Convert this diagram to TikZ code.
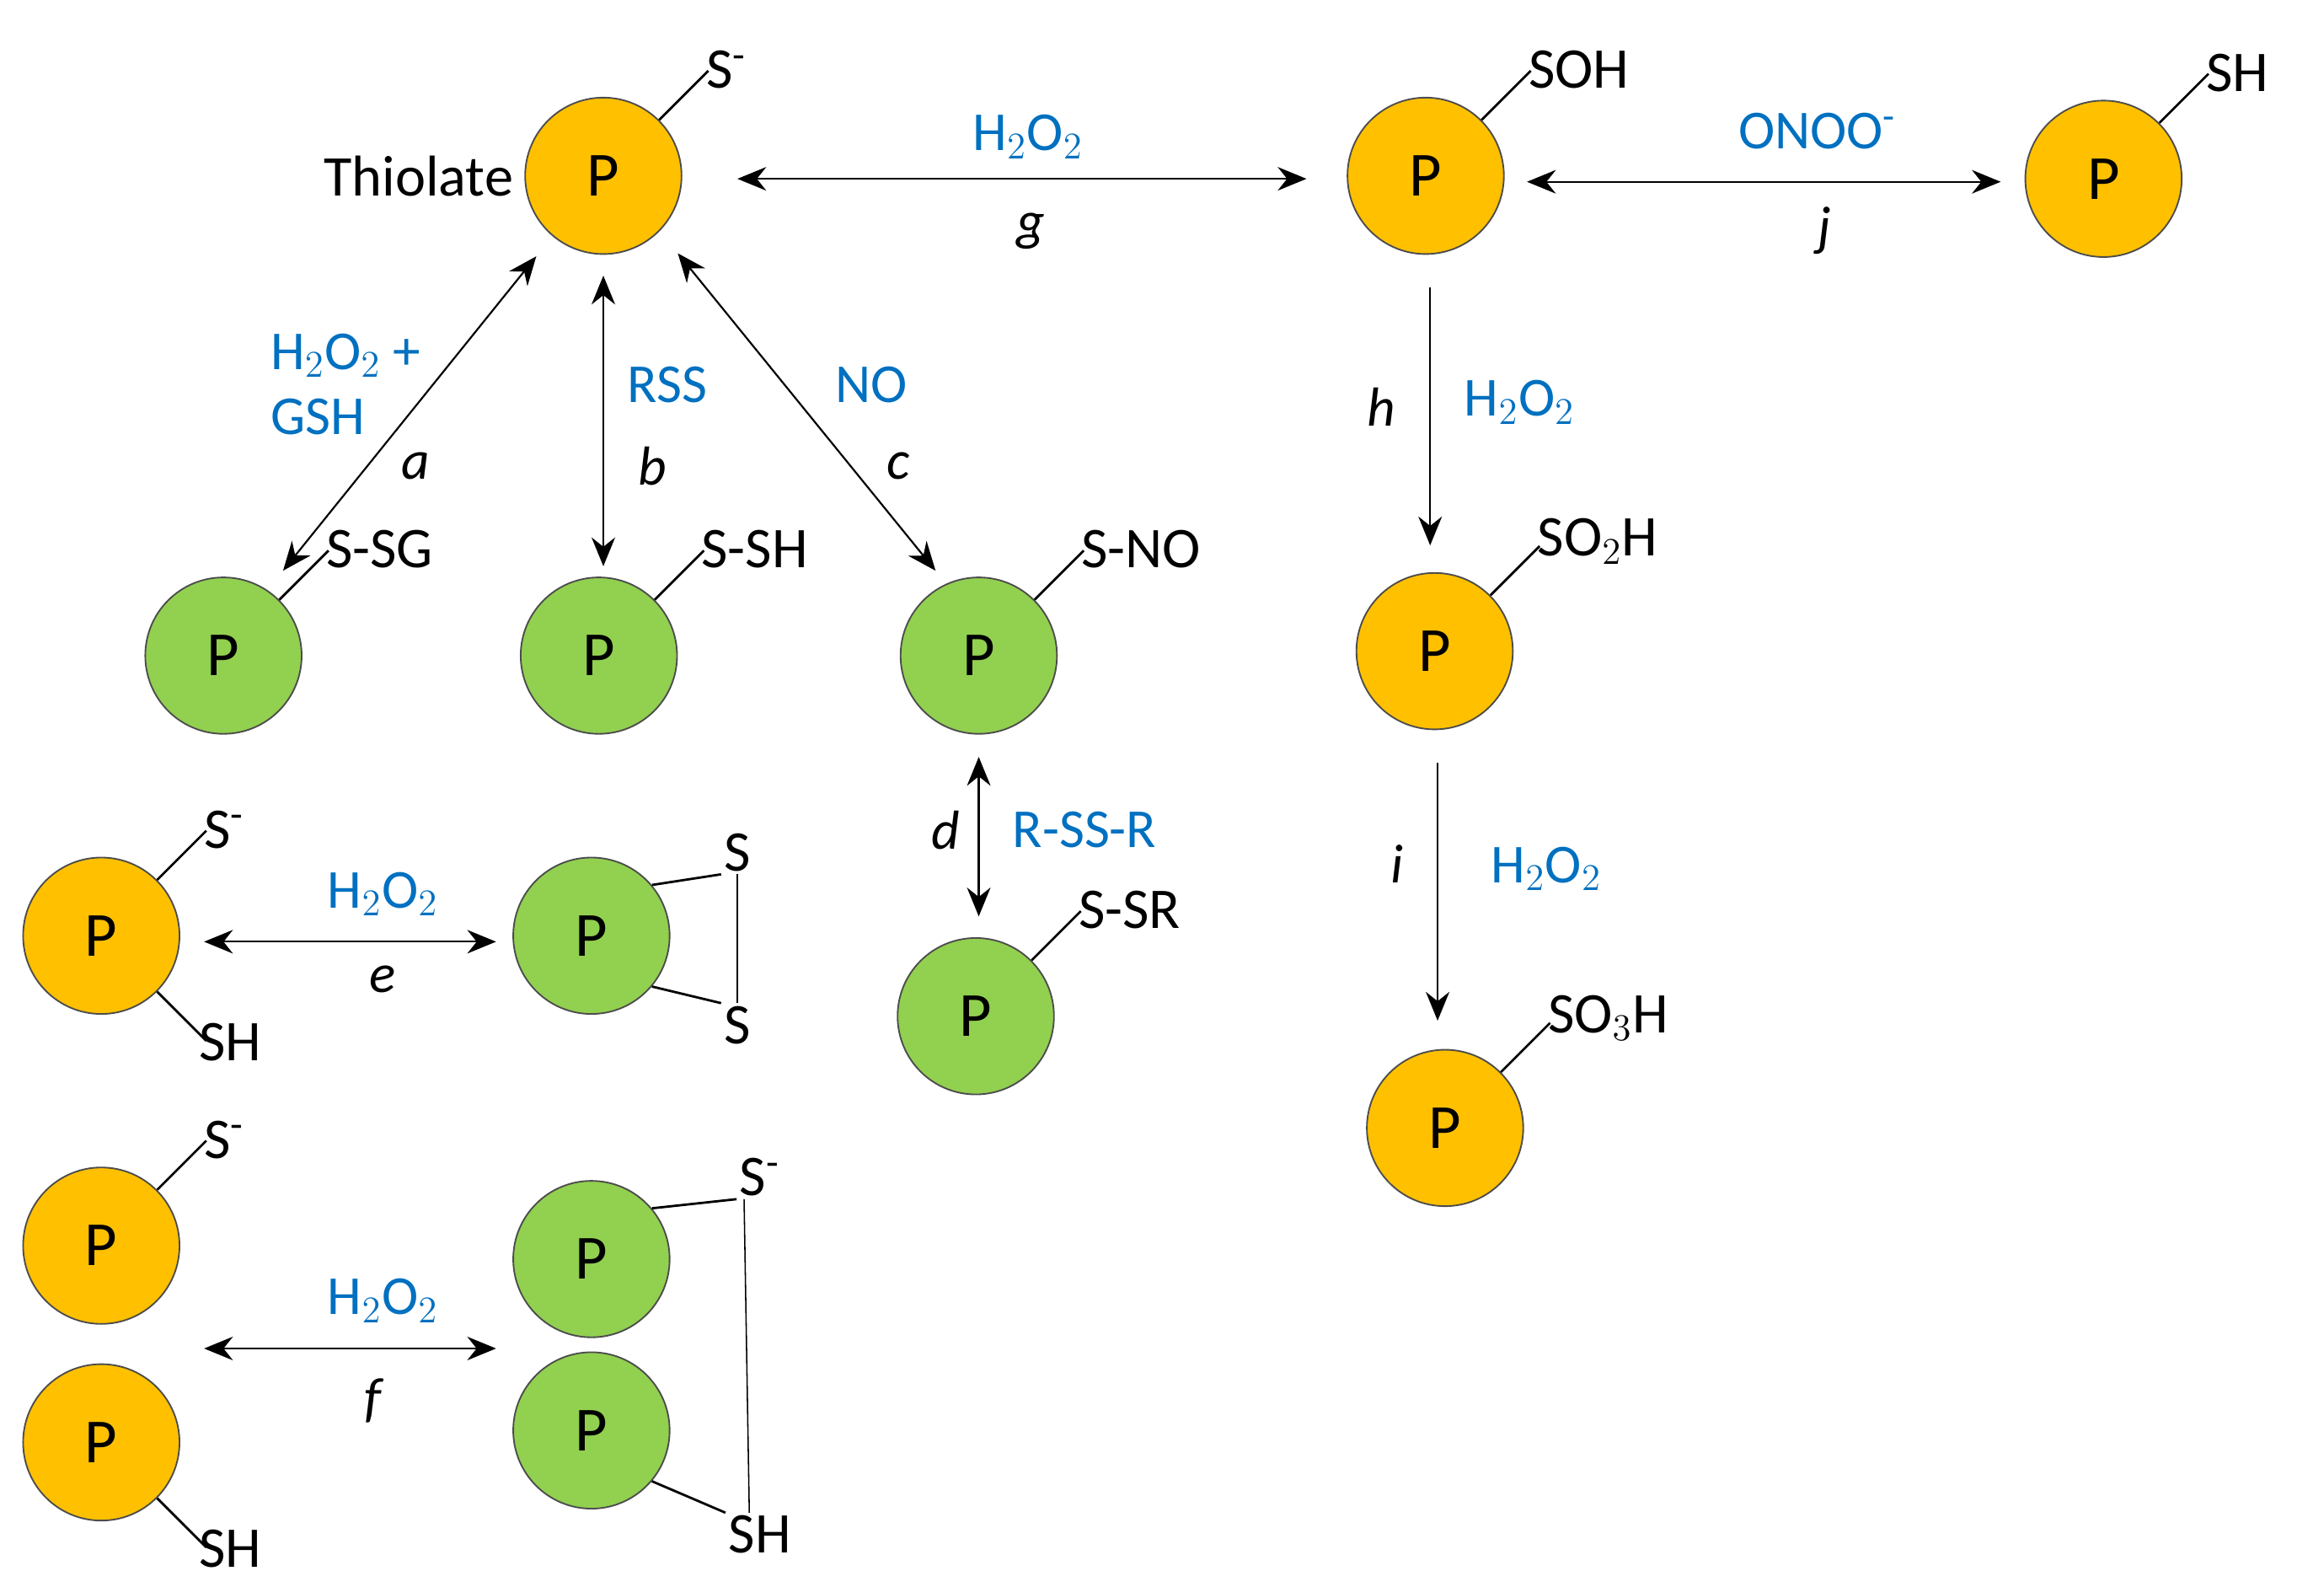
\documentclass[tikz,border=0pt]{standalone}
\usepackage{fontspec}
\setmainfont{Carlito}
\usetikzlibrary{arrows.meta}
\definecolor{org}{HTML}{FFC000}
\definecolor{grn}{HTML}{92D050}
\definecolor{blu}{HTML}{0070C0}
\newcommand{\mns}{\textsuperscript{-}}
\begin{document}
\begin{tikzpicture}[x=0.02cm,y=-0.02cm,
 pc/.style={circle,draw=black!70,line width=0.6pt,minimum size=2.1cm,inner sep=0pt,font=\fontsize{24}{28}\selectfont},
 po/.style={pc,fill=org},pg/.style={pc,fill=grn},
 lab/.style={font=\fontsize{22}{26}\selectfont,inner sep=1pt},
 bl/.style={font=\fontsize{21}{25}\selectfont,text=blu,inner sep=1pt},
 it/.style={font=\fontsize{21}{25}\selectfont\itshape,inner sep=1pt},
 ar/.style={line width=0.7pt,-{Stealth[length=11pt,width=9pt]}},
 dar/.style={line width=0.7pt,{Stealth[length=11pt,width=9pt]}-{Stealth[length=11pt,width=9pt]}},
 st/.style={line width=0.9pt}]
\useasboundingbox (0,0) rectangle (1560,1065);
% nodes
\node[po] (T) at (405,118) {P};
\node[po] (SOH) at (957,118) {P};
\node[po] (SH) at (1412,120) {P};
\node[po] (SO2) at (963,437) {P};
\node[po] (SO3) at (970,757) {P};
\node[po] (EL) at (68,628) {P};
\node[po] (FL1) at (68,836) {P};
\node[po] (FL2) at (68,968) {P};
\node[pg] (SSG) at (150,440) {P};
\node[pg] (SSH) at (402,440) {P};
\node[pg] (SNO) at (657,440) {P};
\node[pg] (SSR) at (655,682) {P};
\node[pg] (ER) at (397,628) {P};
\node[pg] (FR1) at (397,845) {P};
\node[pg] (FR2) at (397,960) {P};
% sticks and labels
\foreach \n/\tx in {T/S\mns,SOH/SOH,SH/SH,SO2/SO$_2$H,SO3/SO$_3$H,SSG/S-SG,SSH/S-SH,SNO/S-NO,SSR/S-SR,EL/S\mns,FL1/S\mns}{
 \draw[st] (\n.45) -- ++(33,-33) coordinate (\n t);
 \node[lab,anchor=south west,xshift=-2pt,yshift=-8pt] (\n l) at (\n t) {\tx};
}
\node[lab,anchor=east] (thl) at ([xshift=-3pt]T.west) {Thiolate};
% lower sticks
\draw[st] (EL.-45) -- ++(33,33) coordinate (ELb);
\node[lab,anchor=north west,xshift=-4pt,yshift=8pt] (ELs) at (ELb) {SH};
\draw[st] (FL2.-45) -- ++(33,33) coordinate (FLb);
\node[lab,anchor=north west,xshift=-4pt,yshift=8pt] (FLs) at (FLb) {SH};
% e right
\node[lab] (S1) at (495,572) {S};
\node[lab] (S2) at (495,688) {S};
\draw[st] (ER.40) -- (S1.south west);
\draw[st] (ER.-40) -- (S2.north west);
\draw[line width=0.5pt] (S1.south) -- (S2.north);
% f right
\node[lab] (FS1) at (510,790) {S\mns};
\node[lab] (FS2) at (510,1030) {SH};
\draw[st] (FR1.40) -- (FS1.south west);
\draw[st] (FR2.-40) -- (FS2.north west);
\draw[line width=0.5pt] ([xshift=-6pt]FS1.south) -- ([xshift=-4pt]FS2.north);
% arrows
\coordinate (g1) at (495,120); \coordinate (g2) at (877,120);
\draw[dar] (g1) -- (g2);
\node[bl] (gl) at (690,92) {H$_2$O$_2$}; \node[it] (gi) at (692,155) {g};
\coordinate (j1) at (1025,122); \coordinate (j2) at (1343,122);
\draw[dar] (j1) -- (j2);
\node[bl] (jl) at (1220,88) {ONOO\mns}; \node[it] (ji) at (1225,155) {j};
\coordinate (a1) at (190,383); \coordinate (a2) at (360,172);
\draw[dar] (a1) -- (a2);
\node[bl,align=left] (al) at (232,258) {H$_2$O$_2$ +\\GSH}; \node[it] (ai) at (279,313) {a};
\coordinate (b1) at (405,185); \coordinate (b2) at (405,380);
\draw[dar] (b1) -- (b2);
\node[bl] (bl) at (448,258) {RSS}; \node[it] (bi) at (438,313) {b};
\coordinate (c1) at (455,170); \coordinate (c2) at (628,383);
\draw[dar] (c1) -- (c2);
\node[bl] (cl) at (585,258) {NO}; \node[it] (ci) at (603,313) {c};
\coordinate (d1) at (657,508); \coordinate (d2) at (657,615);
\draw[dar] (d1) -- (d2);
\node[it] (di) at (635,557) {d}; \node[bl] (dl) at (728,557) {R-SS-R};
\coordinate (h1) at (960,193); \coordinate (h2) at (960,366);
\draw[ar] (h1) -- (h2);
\node[it] (hi) at (927,273) {h}; \node[bl] (hl) at (1020,270) {H$_2$O$_2$};
\coordinate (i1) at (965,512); \coordinate (i2) at (965,685);
\draw[ar] (i1) -- (i2);
\node[it] (ii) at (938,580) {i}; \node[bl] (il) at (1038,583) {H$_2$O$_2$};
\coordinate (e1) at (137,632); \coordinate (e2) at (333,632);
\draw[dar] (e1) -- (e2);
\node[bl] (el) at (257,600) {H$_2$O$_2$}; \node[it] (ei) at (257,657) {e};
\coordinate (f1) at (137,905); \coordinate (f2) at (333,905);
\draw[dar] (f1) -- (f2);
\node[bl] (fl) at (257,873) {H$_2$O$_2$}; \node[it] (fi) at (250,940) {f};
\end{tikzpicture}
\end{document}
